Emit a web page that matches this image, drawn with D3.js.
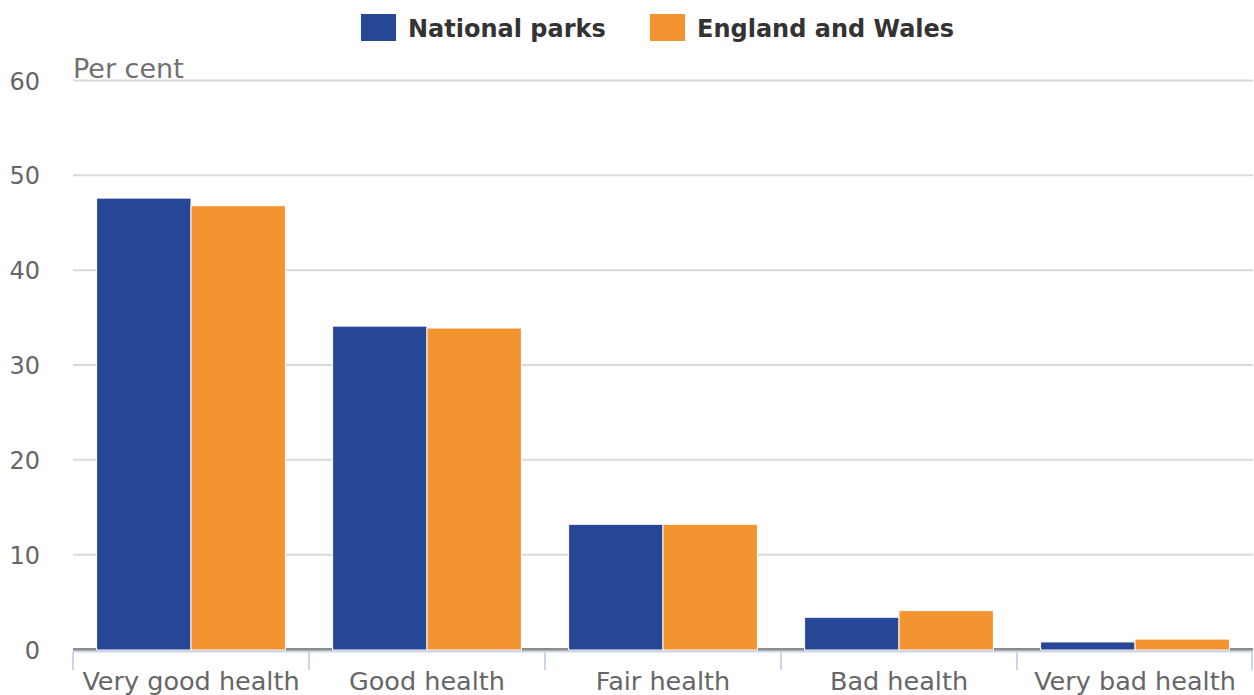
<!DOCTYPE html>
<html>
<head>
<meta charset="utf-8">
<script src="https://cdn.jsdelivr.net/npm/d3@7"></script>
<style>
  body { margin: 0; background: #fff; }
  svg { font-family: 'DejaVu Sans', sans-serif; }
</style>
</head>
<body>
<svg id="container" width="1254" height="695"></svg>
<script>
const categories = ['Very good health', 'Good health', 'Fair health', 'Bad health', 'Very bad health']
const seriesNames = ['National parks', 'England and Wales']
const nationalParks = [47.6, 34.1, 13.2, 3.4, 0.8]
const englandWales = [46.8, 33.9, 13.2, 4.1, 1.1]
const yTicks = [0, 10, 20, 30, 40, 50, 60]
const colors = ['#264796', '#f39431']

const svg = d3.select('#container')
const plotLeft = 73, plotRight = 1253, plotTop = 80.5, plotBottom = 649.5

const x0 = d3.scaleBand().domain(categories).range([plotLeft, plotRight])
const bw = x0.bandwidth()
const x1 = d3.scaleBand().domain(seriesNames).range([bw * 0.1, bw * 0.9])
const y = d3.scaleLinear().domain([0, 60]).range([plotBottom, plotTop])

// gridlines
svg.append('g')
  .selectAll('line')
  .data(yTicks)
  .enter()
  .append('line')
  .attr('x1', plotLeft)
  .attr('x2', plotRight)
  .attr('y1', (d) => y(d))
  .attr('y2', (d) => y(d))
  .attr('stroke', (d) => (d === 0 ? '#8c8c8c' : '#d9d9d9'))
  .attr('stroke-width', (d) => (d === 0 ? 3 : 2))

// y tick labels
svg.append('g')
  .selectAll('text')
  .data(yTicks)
  .enter()
  .append('text')
  .attr('x', 40)
  .attr('y', (d) => y(d) + 9)
  .attr('text-anchor', 'end')
  .attr('fill', '#666')
  .style('font-size', '24px')
  .text((d) => d)

svg.append('text')
  .attr('x', 73)
  .attr('y', 78)
  .attr('fill', '#707070')
  .style('font-size', '27px')
  .text('Per cent')

// x axis line and ticks
const xAxis = svg.append('g')
xAxis.append('line')
  .attr('x1', plotLeft).attr('x2', plotRight)
  .attr('y1', 651.5).attr('y2', 651.5)
  .attr('stroke', '#ccd6eb').attr('stroke-width', 2)

const bounds = categories.map((c) => x0(c)).concat([plotRight - 1])
xAxis.selectAll('line.tick')
  .data(bounds)
  .enter()
  .append('line')
  .attr('class', 'tick')
  .attr('x1', (d) => d).attr('x2', (d) => d)
  .attr('y1', 651).attr('y2', 670)
  .attr('stroke', '#ccd6eb').attr('stroke-width', 2)

xAxis.selectAll('text')
  .data(categories)
  .enter()
  .append('text')
  .attr('x', (d) => x0(d) + bw / 2)
  .attr('y', 690)
  .attr('text-anchor', 'middle')
  .attr('fill', '#666')
  .style('font-size', '25.5px')
  .text((d) => d)

// bars
const rows = categories.map((c, i) => ({ cat: c, vals: [nationalParks[i], englandWales[i]] }))
const groups = svg.append('g')
  .selectAll('g')
  .data(rows)
  .enter()
  .append('g')
  .attr('transform', (d) => `translate(${x0(d.cat)}, 0)`)

groups.selectAll('rect')
  .data((d) => d.vals.map((v, j) => ({ name: seriesNames[j], v, j })))
  .enter()
  .append('rect')
  .attr('x', (d) => x1(d.name))
  .attr('width', x1.bandwidth())
  .attr('y', (d) => y(d.v))
  .attr('height', (d) => plotBottom + 0.5 - y(d.v))
  .attr('fill', (d) => colors[d.j])
  .attr('stroke', '#fff')
  .attr('stroke-width', 1)

// legend
const legendX = [361, 650]
const legend = svg.append('g')
  .selectAll('g')
  .data(seriesNames)
  .enter()
  .append('g')
  .attr('transform', (d, i) => `translate(${legendX[i]}, 14)`)

legend.append('rect')
  .attr('width', 35)
  .attr('height', 27)
  .attr('fill', (d, i) => colors[i])

legend.append('text')
  .attr('x', 47)
  .attr('y', 23)
  .attr('fill', '#333')
  .style('font-size', '24px')
  .style('font-weight', 'bold')
  .text((d) => d)
</script>
</body>
</html>
